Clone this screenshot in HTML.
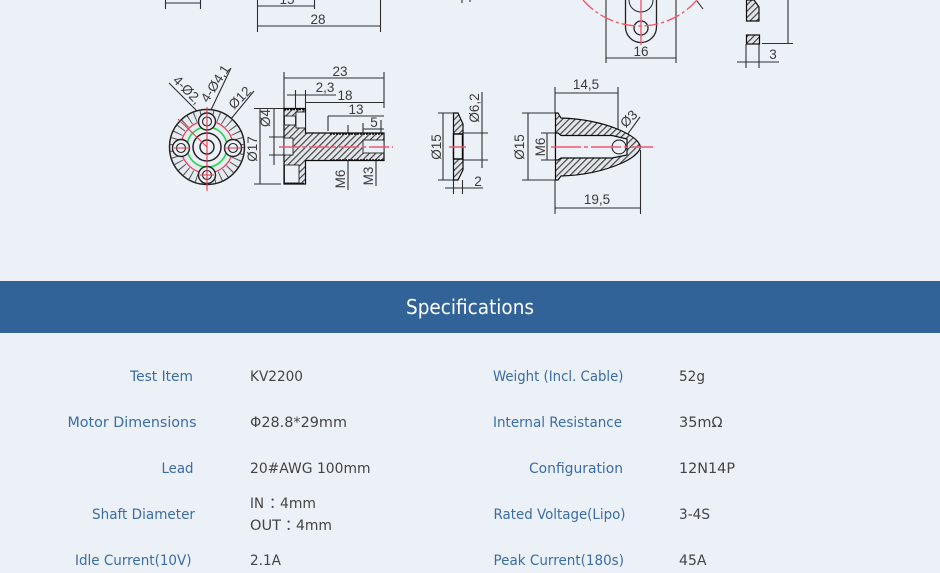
<!DOCTYPE html>
<html lang="en"><head><meta charset="utf-8"><title>Specifications</title>
<style>html,body{margin:0;padding:0;background:#ecf1f7;width:940px;height:573px;overflow:hidden}svg{display:block}
.d text{font-family:"Liberation Sans",sans-serif;font-size:13.5px;fill:#3a3a3a;text-anchor:middle}
.l{font-family:"DejaVu Sans","Noto Sans CJK SC",sans-serif;font-size:14.5px;fill:#3b6ca3}
.v{font-family:"DejaVu Sans","Noto Sans CJK SC",sans-serif;font-size:14.5px;fill:#444}
</style></head><body>
<svg width="940" height="573" viewBox="0 0 940 573" xmlns="http://www.w3.org/2000/svg">
<defs>
<pattern id="h" width="4.5" height="4.5" patternUnits="userSpaceOnUse" patternTransform="rotate(45)"><rect width="4.5" height="4.5" fill="#e3e7ec"/><rect width="1.2" height="4.5" fill="#444"/></pattern>
<filter id="b" x="-5%" y="-5%" width="110%" height="110%"><feGaussianBlur stdDeviation="0.3"/></filter>
</defs>
<rect width="940" height="573" fill="#ecf1f7"/>
<g class="d" filter="url(#b)">
<g fill="none" stroke="#2e2e2e" stroke-width="1.1">
<path d="M165.5 0V9M200.5 0V9M165.5 3H200.5M257.5 0V32M380.5 0V32M314.5 0V9M257.5 6H314.5M257.5 26H380.5M462 0V3M470 0V2"/>
<path d="M606 0V63M676 0V63M606 58H676M788 0V43M762 43.5H793M746 44V68M759 44V68M737 62H779"/>
<path d="M284 72V108M384 72V108M284 78H384M295.5 90V108M305.5 90V108M287 95H336M306 102.5H384M328 116H384M328 116V131M363 123V133M363 129H384M381 120V133M348 125V190M376 133V186M254 108.5H281M254 184H281M260 108V184M269 108.5H284M269 137H284M269 155H284M274 109V165"/>
<path d="M169 83L198 112M210 112L231 68M226 125L254 91"/>
<path d="M438 113H453M438 180H453M443 113V180M482 92V168M463 133H488M463 160H488M453.5 180V194M462.5 180V194M445 188H483"/>
<path d="M555 87V113M618 87V150M555 93H618M522 113H555M522 180H555M528 113V180M541 133H555M541 160H555M547 133V160M555 180V214M640.5 150V214M555 208H640.5M640 117L609 160"/>
</g>
<path d="M625.5 0V27A15.5 15.5 0 0 0 656.5 27V0" fill="none" stroke="#222" stroke-width="1.3"/>
<circle cx="641" cy="28" r="7" fill="none" stroke="#222" stroke-width="1.3"/>
<path d="M629 0A12 12 0 0 0 653 0" fill="none" stroke="#222"/>
<path d="M697 1L703 9" stroke="#222" fill="none"/>
<path d="M583 0A75.5 75.5 0 0 0 697 0" fill="none" stroke="#f2596c" stroke-width="1.4" stroke-dasharray="14 3 3 3"/>
<path d="M641 0V45" stroke="#f2596c" stroke-width="1.4" fill="none"/>
<path d="M746.5 0H754L759 7V21H746.5Z" fill="url(#h)" stroke="#111" stroke-width="1.2"/>
<rect x="746.5" y="35" width="13" height="9" fill="url(#h)" stroke="#111" stroke-width="1.2"/>
<circle cx="207" cy="147" r="37.5" fill="#e6ebf1" stroke="#222" stroke-width="1.5"/>
<circle cx="207" cy="147" r="32" fill="none" stroke="#555" stroke-width="10" stroke-dasharray="1 5"/>
<circle cx="207" cy="147" r="20" fill="#ecf1f7" stroke="none"/>
<circle cx="207" cy="147" r="20" fill="none" stroke="#22d84a" stroke-width="1.6"/>
<circle cx="207" cy="147" r="26" fill="none" stroke="#e8384e" stroke-width="1.2"/>
<g fill="#ecf1f7" stroke="#222" stroke-width="1.4">
<circle cx="207" cy="121.5" r="8.5"/><circle cx="207" cy="175" r="8.5"/><circle cx="181" cy="148" r="8.5"/><circle cx="233" cy="148" r="8.5"/>
</g>
<g fill="none" stroke="#222" stroke-width="1.1">
<circle cx="207" cy="121.5" r="4.5"/><circle cx="207" cy="175" r="4.5"/><circle cx="181" cy="148" r="4.5"/><circle cx="233" cy="148" r="4.5"/>
<circle cx="207" cy="147" r="14" stroke-width="1.5"/><circle cx="207" cy="147" r="7" stroke-width="1.4"/>
</g>
<path d="M207 107V191M178 119L207 147M174 148H190M224 148H242M200 175H214" stroke="#e8384e" stroke-width="1.1" fill="none"/>
<path d="M284 108.5H305.5V133H384V160.5H305.5V184H284Z" fill="url(#h)" stroke="#111" stroke-width="1.2"/>
<rect x="284.5" y="116" width="11" height="9" fill="#ecf1f7" stroke="#222" stroke-width=".9"/>
<rect x="296" y="112" width="9.5" height="16" fill="#ecf1f7" stroke="#222" stroke-width=".9"/>
<rect x="284.5" y="165" width="14.5" height="18" fill="#ecf1f7" stroke="#222" stroke-width=".9"/>
<rect x="284" y="138" width="9" height="17" fill="#ecf1f7" stroke="#222" stroke-width=".9"/>
<rect x="363" y="140" width="21" height="13" fill="#ecf1f7" stroke="#222" stroke-width=".9"/>
<path d="M284 109.5H306M284 183.5H306M330 134H384M330 160H384" stroke="#111" stroke-width="1.6" stroke-dasharray="2 1" fill="none"/>
<path d="M279 147H393" stroke="#f2596c" stroke-width="1.4" stroke-dasharray="20 3 4 3" fill="none"/>
<path d="M453.5 113H458L463 124V170L458 180H453.5Z" fill="url(#h)" stroke="#111" stroke-width="1.2"/>
<rect x="453.5" y="134" width="9" height="25" fill="#ecf1f7" stroke="#000" stroke-width="1.4"/>
<path d="M449 147H466" stroke="#f2596c" stroke-width="1.4" fill="none"/>
<path d="M555.5 113H558L561 118Q595 119 622 131Q639 139 640.5 147Q639 155 622 163Q595 175 561 176L558 180H555.5Z" fill="url(#h)" stroke="#111" stroke-width="1.2"/>
<path d="M555.5 133H558L561 135.5H612L627 139V155L612 158H561L558 160H555.5Z" fill="#ecf1f7" stroke="#111" stroke-width="1.2"/>
<circle cx="619" cy="147" r="7" fill="none" stroke="#111"/>
<path d="M551 147H653" stroke="#f2596c" stroke-width="1.4" stroke-dasharray="30 3 4 3" fill="none"/>
<text x="287" y="4">15</text><text x="318" y="24">28</text><text x="641" y="56">16</text><text x="773" y="59">3</text>
<text x="340" y="76">23</text><text x="325" y="92">2,3</text><text x="345" y="100">18</text><text x="356" y="114">13</text><text x="374" y="127">5</text>
<text transform="translate(270 118) rotate(-90)">Ø4</text>
<text transform="translate(257 149) rotate(-90)">Ø17</text>
<text transform="translate(345 179) rotate(-90)">M6</text>
<text transform="translate(373 176) rotate(-90)">M3</text>
<text transform="translate(184 93) rotate(45)">4-Ø2,</text>
<text transform="translate(219 86) rotate(-57)">4-Ø4,1</text>
<text transform="translate(243 101) rotate(-45)">Ø12</text>
<text transform="translate(441 147) rotate(-90)">Ø15</text>
<text transform="translate(479 108) rotate(-90)">Ø6,2</text>
<text x="478" y="186">2</text>
<text x="586" y="89">14,5</text><text x="597" y="204">19,5</text>
<text transform="translate(524 147) rotate(-90)">Ø15</text>
<text transform="translate(545 147) rotate(-90)">M6</text>
<text transform="translate(632 122) rotate(-45)">Ø3</text>
</g>
<rect x="0" y="281" width="940" height="52" fill="#316399"/>
<text x="406" y="314" textLength="128" lengthAdjust="spacingAndGlyphs" font-family="'DejaVu Sans',sans-serif" font-size="20" fill="#fff">Specifications</text>
<text class="l" x="130" y="381" textLength="63" lengthAdjust="spacingAndGlyphs">Test Item</text>
<text class="l" x="67.5" y="427" textLength="129" lengthAdjust="spacingAndGlyphs">Motor Dimensions</text>
<text class="l" x="161.5" y="473" textLength="32" lengthAdjust="spacingAndGlyphs">Lead</text>
<text class="l" x="92" y="519" textLength="103" lengthAdjust="spacingAndGlyphs">Shaft Diameter</text>
<text class="l" x="75" y="565" textLength="116.5" lengthAdjust="spacingAndGlyphs">Idle Current(10V)</text>
<text class="v" x="250" y="381" textLength="53" lengthAdjust="spacingAndGlyphs">KV2200</text>
<text class="v" x="250" y="427" textLength="97" lengthAdjust="spacingAndGlyphs">Φ28.8*29mm</text>
<text class="v" x="250" y="473" textLength="120.5" lengthAdjust="spacingAndGlyphs">20#AWG 100mm</text>
<text class="v" x="250" y="508" textLength="14" lengthAdjust="spacingAndGlyphs">IN</text><text class="v" x="269" y="508">：</text><text class="v" x="280" y="508" textLength="36" lengthAdjust="spacingAndGlyphs">4mm</text>
<text class="v" x="250" y="530" textLength="31" lengthAdjust="spacingAndGlyphs">OUT</text><text class="v" x="285" y="530">：</text><text class="v" x="296" y="530" textLength="36" lengthAdjust="spacingAndGlyphs">4mm</text>
<text class="v" x="250" y="565" textLength="31" lengthAdjust="spacingAndGlyphs">2.1A</text>
<text class="l" x="493" y="381" textLength="130.5" lengthAdjust="spacingAndGlyphs">Weight (Incl. Cable)</text>
<text class="l" x="493" y="427" textLength="129" lengthAdjust="spacingAndGlyphs">Internal Resistance</text>
<text class="l" x="529" y="473" textLength="94" lengthAdjust="spacingAndGlyphs">Configuration</text>
<text class="l" x="493.5" y="519" textLength="132" lengthAdjust="spacingAndGlyphs">Rated Voltage(Lipo)</text>
<text class="l" x="493.5" y="565" textLength="130.5" lengthAdjust="spacingAndGlyphs">Peak Current(180s)</text>
<text class="v" x="679" y="381" textLength="26" lengthAdjust="spacingAndGlyphs">52g</text>
<text class="v" x="679" y="427" textLength="43.5" lengthAdjust="spacingAndGlyphs">35mΩ</text>
<text class="v" x="679" y="473" textLength="56" lengthAdjust="spacingAndGlyphs">12N14P</text>
<text class="v" x="679" y="519" textLength="31" lengthAdjust="spacingAndGlyphs">3-4S</text>
<text class="v" x="679" y="565" textLength="27.5" lengthAdjust="spacingAndGlyphs">45A</text>
</svg>
</body></html>
